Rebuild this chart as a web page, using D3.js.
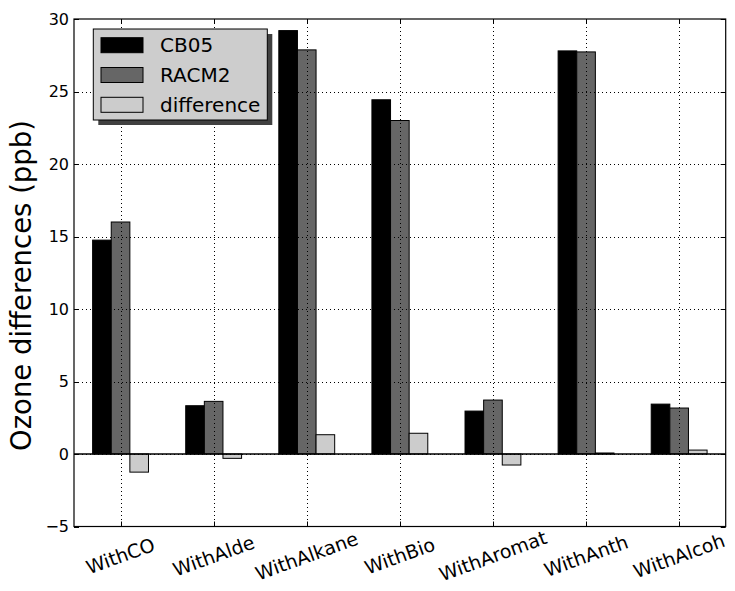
<!DOCTYPE html>
<html>
<head>
<meta charset="utf-8">
<script src="https://cdn.jsdelivr.net/npm/d3@7"></script>
<style>
  html, body { margin: 0; padding: 0; background: #fff; }
  svg { display: block; font-family: "DejaVu Sans", sans-serif; }
</style>
</head>
<body>
<svg id="chart" width="735" height="591"></svg>
<script>
const categories = ["WithCO", "WithAlde", "WithAlkane", "WithBio", "WithAromat", "WithAnth", "WithAlcoh"];
const cb05 = [14.75, 3.33, 29.2, 24.43, 2.96, 27.8, 3.44];
const racm2 = [16.0, 3.63, 27.87, 23.0, 3.72, 27.73, 3.17];
const difference = [-1.25, -0.3, 1.33, 1.43, -0.76, 0.07, 0.27];
const yTicks = [-5, 0, 5, 10, 15, 20, 25, 30];
const seriesNames = ["CB05", "RACM2", "difference"];
const seriesColors = ["#000000", "#666666", "#cccccc"];

const svg = d3.select("#chart");
const L = 74, R = 725.7, T = 19, B = 526.5;

const x = d3.scaleLinear().domain([-0.5, categories.length - 0.5]).range([L, R]);
const y = d3.scaleLinear().domain([-5, 30]).range([B, T]);

const series = [cb05, racm2, difference];
const offsets = [-0.3, -0.1, 0.1];
const bw = 0.2;

const g = svg.append("g");

// bars
series.forEach((vals, s) => {
  g.selectAll(".bar" + s).data(vals).enter().append("rect")
    .attr("x", (d, i) => x(i + offsets[s]))
    .attr("width", x(bw) - x(0))
    .attr("y", d => y(Math.max(0, d)))
    .attr("height", d => Math.abs(y(d) - y(0)))
    .attr("fill", seriesColors[s])
    .attr("stroke", "#000")
    .attr("stroke-width", 1);
});

// zero line
g.append("line").attr("x1", L).attr("x2", R).attr("y1", y(0)).attr("y2", y(0))
  .attr("stroke", "#000").attr("stroke-width", 1.5);

// grid (on top)
const grid = g.append("g").attr("stroke", "#000").attr("stroke-width", 1).attr("stroke-dasharray", "1,3");
yTicks.forEach(t => {
  if (t === -5 || t === 30) return;
  grid.append("line").attr("x1", L).attr("x2", R).attr("y1", Math.round(y(t)) + 0.5).attr("y2", Math.round(y(t)) + 0.5);
});
categories.forEach((c, i) => {
  grid.append("line").attr("x1", Math.round(x(i)) + 0.5).attr("x2", Math.round(x(i)) + 0.5).attr("y1", T).attr("y2", B);
});

// spines
g.append("rect").attr("x", L).attr("y", T).attr("width", R - L).attr("height", B - T)
  .attr("fill", "none").attr("stroke", "#000").attr("stroke-width", 1.2);

// ticks (inside)
const tk = g.append("g").attr("stroke", "#000").attr("stroke-width", 1);
yTicks.forEach(t => {
  const yy = Math.round(y(t)) + 0.5;
  tk.append("line").attr("x1", L).attr("x2", L + 5).attr("y1", yy).attr("y2", yy);
  tk.append("line").attr("x1", R).attr("x2", R - 5).attr("y1", yy).attr("y2", yy);
});
categories.forEach((c, i) => {
  const xx = Math.round(x(i)) + 0.5;
  tk.append("line").attr("x1", xx).attr("x2", xx).attr("y1", T).attr("y2", T + 5);
  tk.append("line").attr("x1", xx).attr("x2", xx).attr("y1", B).attr("y2", B - 5);
});

// y tick labels
g.selectAll(".ylab").data(yTicks).enter().append("text")
  .attr("x", L - 5).attr("y", d => y(d))
  .attr("dy", "0.36em")
  .attr("text-anchor", "end")
  .attr("font-size", 16)
  .text(d => d < 0 ? "\u2212" + Math.abs(d) : d);

// x tick labels
g.selectAll(".xlab").data(categories).enter().append("text")
  .attr("transform", (d, i) => `translate(${x(i)},${556}) rotate(-20)`)
  .attr("text-anchor", "middle")
  .attr("dy", "0.35em")
  .attr("font-size", 19)
  .text(d => d);

// y axis label
svg.append("text")
  .attr("transform", `translate(31,${285.5}) rotate(-90)`)
  .attr("text-anchor", "middle")
  .attr("font-size", 27.5)
  .text("Ozone differences (ppb)");

// legend
const lg = svg.append("g");
const lx = 93.3, ly = 29, lw = 174, lh = 91;
lg.append("rect").attr("x", lx + 5).attr("y", ly + 5).attr("width", lw).attr("height", lh).attr("fill", "#404040");
lg.append("rect").attr("x", lx).attr("y", ly).attr("width", lw).attr("height", lh)
  .attr("fill", "#cdcdcd").attr("stroke", "#000").attr("stroke-width", 1);
seriesNames.forEach((n, k) => {
  const ry = 37.7 + k * 29.8;
  lg.append("rect").attr("x", 101).attr("y", ry).attr("width", 42).attr("height", 15)
    .attr("fill", seriesColors[k]).attr("stroke", "#000").attr("stroke-width", 1);
  lg.append("text").attr("x", 160).attr("y", ry + 7.5).attr("dy", "0.36em")
    .attr("font-size", 20).text(n);
});
</script>
</body>
</html>
